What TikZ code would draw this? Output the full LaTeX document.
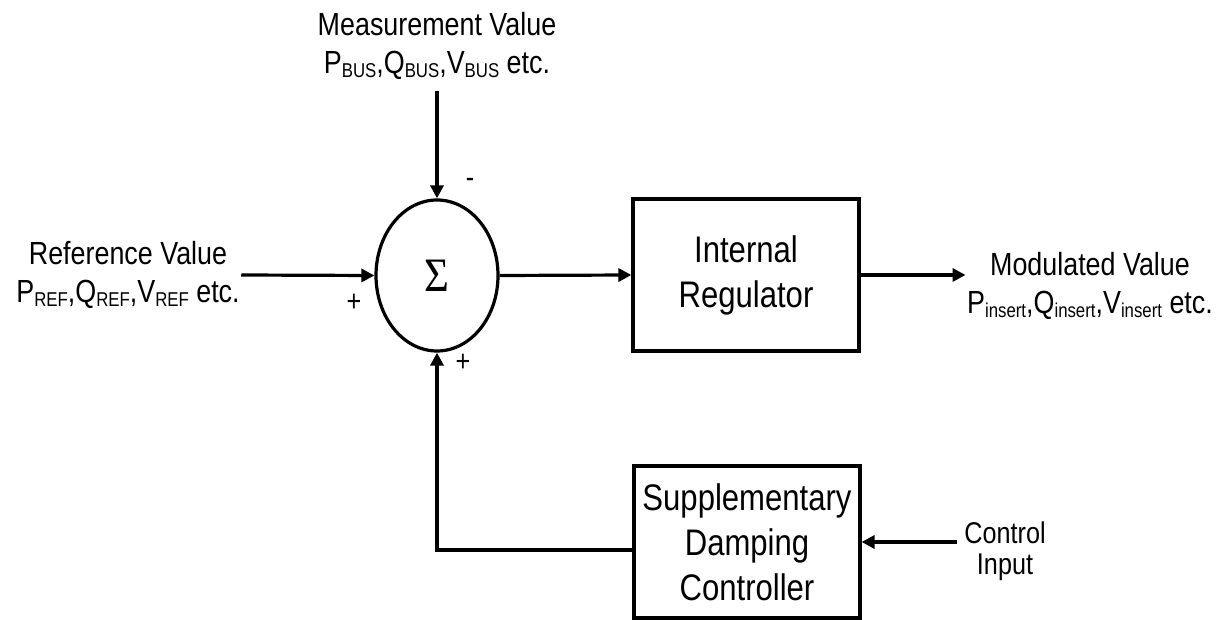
\documentclass[tikz,border=0pt]{standalone}
\usepackage{fontspec}
\setmainfont{Liberation Sans}[FakeStretch=0.84]
\newfontfamily\sigmafont{Liberation Serif}[FakeStretch=0.89]
\usetikzlibrary{shapes.geometric,arrows.meta}
\newcommand\lo[1]{\raisebox{-4pt}{\fontsize{20}{20}\selectfont #1}}
\begin{document}
\begin{tikzpicture}[x=1pt,y=-1pt, line width=3.2pt,
  arr/.style={-{Triangle[length=13pt,width=13pt]}},
  lbl/.style={align=center, inner sep=0pt, font=\fontsize{32}{38}\selectfont},
  lblsmall/.style={align=center, inner sep=0pt, font=\fontsize{30}{31}\selectfont},
  blk/.style={draw, rectangle, align=center, inner sep=0pt, minimum width=226pt, minimum height=152pt, font=\fontsize{37}{45}\selectfont},
  sgn/.style={inner sep=0pt, font=\fontsize{30}{30}\selectfont}]
\useasboundingbox[fill=white] (0,0) rectangle (1227,620);

\node[draw, ellipse, inner sep=0pt, minimum width=122pt, minimum height=151pt] (sum) at (437,275.5)
  {\sigmafont\fontsize{48}{48}\selectfont Σ};
\node[blk] (ir) at (746,275) {Internal\\Regulator};
\node[blk] (sdc) at (747,542) {Supplementary\\Damping\\Controller};

\node[lbl] (ref) at (128,275) {Reference Value\\P\lo{REF},Q\lo{REF},V\lo{REF} etc.};
\node[lbl] (meas) at (437,46) {Measurement Value\\P\lo{BUS},Q\lo{BUS},V\lo{BUS} etc.};
\node[lbl] (mod) at (1090,286) {Modulated Value\\P\lo{insert},Q\lo{insert},V\lo{insert} etc.};
\node[lblsmall] (ctrl) at (1005,551) {Control\\Input};

\node[sgn] (sm) at (470,183) {-};
\node[sgn] (sp1) at (354,303) {+};
\node[sgn] (sp2) at (463,363) {+};

\draw[arr] (ref.east) -- (sum.west);
\draw[arr, shorten <=10pt] (meas.south) -- (sum.north);
\draw[arr] (sum.east) -- (ir.west);
\draw[arr] (ir.east) -- (ir.east -| mod.west);
\draw[arr, shorten <=6pt] (ctrl.west |- sdc.east) -- (sdc.east);
\draw[arr] ([yshift=-8pt]sdc.west) -| (sum.south);
\end{tikzpicture}
\end{document}
